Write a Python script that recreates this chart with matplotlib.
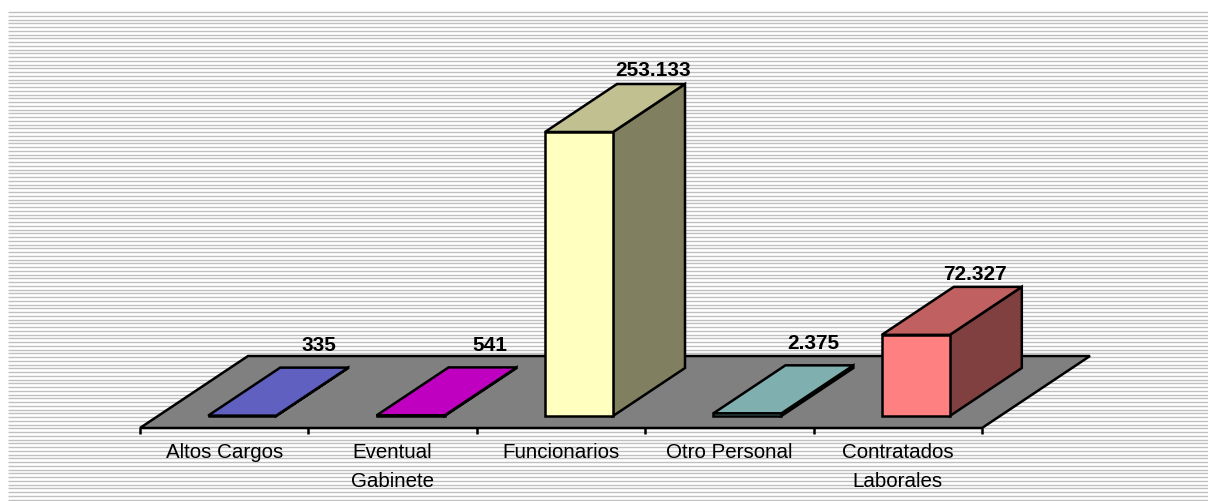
import numpy as np
import matplotlib
matplotlib.use('Agg')
import matplotlib.pyplot as plt
from matplotlib.patches import Polygon

plt.rcParams['font.family'] = ['Liberation Sans', 'DejaVu Sans']

CATEGORIES = ['Altos Cargos', 'Eventual\nGabinete', 'Funcionarios', 'Otro Personal', 'Contratados\nLaborales']
VALUES = [335, 541, 253133, 2375, 72327]
VALUE_LABELS = ['335', '541', '253.133', '2.375', '72.327']

FRONT_COLORS = ['#6060C0', '#C000C0', '#FFFFC0', '#80B0B0', '#FF8080']
TOP_COLORS = ['#6060C0', '#C000C0', '#C0C090', '#7FAFAF', '#C06060']
SIDE_COLORS = ['#303060', '#600060', '#808060', '#405858', '#804040']

# label placement relative to the bar's back right corner (px)
LABEL_DX = [-29, -27, -32, -40, -47]
LABEL_DY = [-22, -22, -14, -22, -12]

W, H = 1208, 501
X0, SLOT = 140.0, 168.4      # floor front left, category width
Y0 = 428.0                   # floor front edge
DEPTH_X, DEPTH_Y = 108.0, 72.0
BAR_W = 68.0
BAR_D0, BAR_D1 = 1/6.0, 5/6.0  # bar position in floor depth
PX_PER_UNIT = 284.0 / 253133.0
LW = 1.8


def project(x, depth, value=0.0):
    # x in category units, depth 0..1, value in data units
    return (X0 + x*SLOT + depth*DEPTH_X, Y0 - depth*DEPTH_Y - value*PX_PER_UNIT)


def poly(ax, pts, color, z):
    ax.add_patch(Polygon(pts, closed=True, facecolor=color, edgecolor='black',
                         linewidth=LW, joinstyle='miter', zorder=z))


def main():
    fig = plt.figure(figsize=(W/100.0, H/100.0), dpi=100)
    ax = fig.add_axes([0, 0, 1, 1])
    ax.set_xlim(0, W)
    ax.set_ylim(H, 0)
    ax.axis('off')

    # striped chart area
    for y in np.arange(12.0, H, 3.75):
        ax.plot([8, W], [y, y], color='#C0C0C0', lw=1.0, solid_capstyle='butt', zorder=1)

    n = len(CATEGORIES)
    poly(ax, [project(0, 0), project(n, 0), project(n, 1), project(0, 1)], '#808080', 2)

    for i in range(n+1):
        x, y = project(i, 0)
        ax.plot([x, x], [y, y+6], color='black', lw=LW, solid_capstyle='butt', zorder=3)

    bw = BAR_W/SLOT
    for i, (val, label) in enumerate(zip(VALUES, CATEGORIES)):
        left = i + (1 - bw)/2.0
        right = left + bw
        poly(ax, [project(right, BAR_D0), project(right, BAR_D1), project(right, BAR_D1, val), project(right, BAR_D0, val)], SIDE_COLORS[i], 4)
        poly(ax, [project(left, BAR_D0, val), project(right, BAR_D0, val), project(right, BAR_D1, val), project(left, BAR_D1, val)], TOP_COLORS[i], 5)
        poly(ax, [project(left, BAR_D0), project(right, BAR_D0), project(right, BAR_D0, val), project(left, BAR_D0, val)], FRONT_COLORS[i], 6)

        bx, by = project(right, BAR_D1, val)
        ax.text(bx + LABEL_DX[i], by + LABEL_DY[i], VALUE_LABELS[i], ha='center', va='center',
                fontsize=15, fontweight='bold', color='black', zorder=7)

        cx, cy = project(i + 0.5, 0)
        ax.text(cx, cy + 15, label, ha='center', va='top', fontsize=14.8, color='black',
                linespacing=1.68, zorder=7)

    fig.savefig('out.png', dpi=100)


if __name__ == "__main__":
    main()
